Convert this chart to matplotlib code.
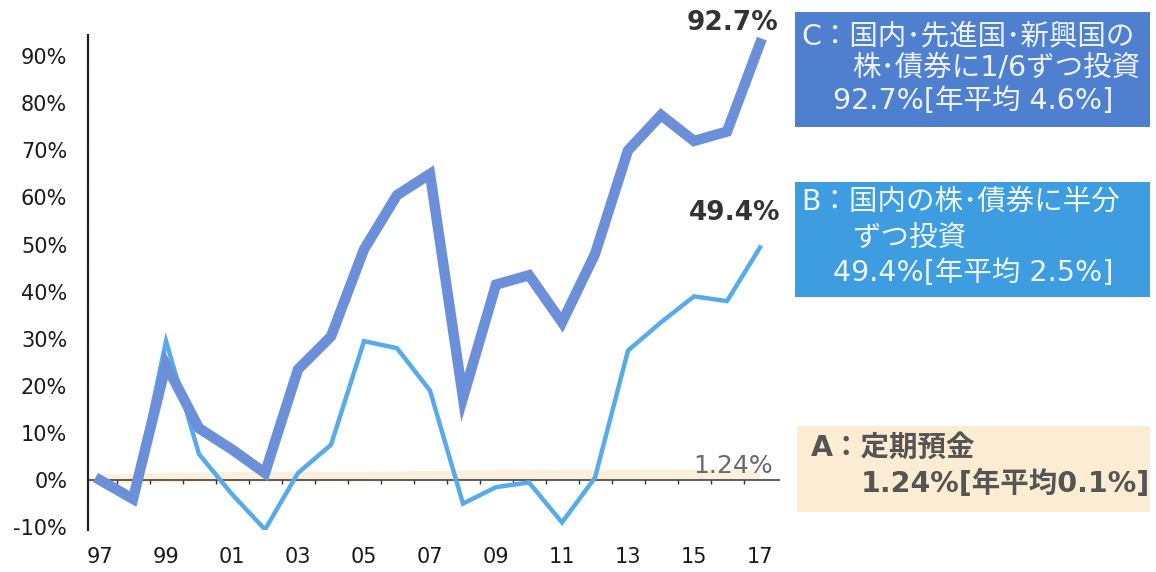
import matplotlib
matplotlib.use("Agg")
import matplotlib.pyplot as plt
from matplotlib.patches import Rectangle

plt.rcParams['font.family'] = ['DejaVu Sans', 'Noto Sans CJK JP']

# ---- data ----
years = list(range(1997, 2018))
series_c = [0, -4, 24.5, 11, 6.5, 1.5, 23.5, 30.5, 49, 60.5, 65, 17.5, 41.5, 43.5, 33.5, 48, 70, 77.5, 72, 74, 92.7]
series_b = [0, -4, 29.5, 5.5, -3, -10.5, 1.5, 7.5, 29.5, 28, 19, -5, -1.5, -0.5, -9, 0.5, 27.5, 33.5, 39, 38, 49.4]
series_a = [0, 0.3, 0.5, 0.6, 0.65, 0.7, 0.7, 0.72, 0.75, 0.8, 0.9, 1.0, 1.05, 1.1, 1.13, 1.16, 1.18, 1.2, 1.22, 1.23, 1.24]
ytick_vals = [-10, 0, 10, 20, 30, 40, 50, 60, 70, 80, 90]
xtick_years = list(range(1997, 2018, 2))
xtick_labels = ['97', '99', '01', '03', '05', '07', '09', '11', '13', '15', '17']
end_label_c = '92.7%'
end_label_b = '49.4%'
end_label_a = '1.24%'
legend_c = ['C：国内･先進国･新興国の', '株･債券に1/6ずつ投資', '92.7%[年平均 4.6%]']
legend_b = ['B：国内の株･債券に半分', 'ずつ投資', '49.4%[年平均 2.5%]']
legend_a = ['A：定期預金', '1.24%[年平均0.1%]']

W, H = 1156, 572
fig = plt.figure(figsize=(W / 100, H / 100), dpi=100)

def fx(px):
    return px / W

def fy(py):
    return 1 - py / H

ax = fig.add_axes([fx(88), fy(530), fx(780) - fx(88), fy(35) - fy(530)])
ax.set_xlim(1997 - 12 / 33, 2017 + 20 / 33)
ax.set_ylim(-10.6, 94.5)

c_line = '#6b8fd9'
b_line = '#58abea'

# A series: faint beige band along zero
ax.plot(years, series_a, color='#fdefd9', lw=7, solid_capstyle='butt', zorder=1)
# zero axis line with small ticks
ax.axhline(0, color='#333333', lw=1.1, zorder=2)
half_years = [y + 0.5 for y in years[:-1]]
ax.vlines(half_years, -0.9, 0, color='#333333', lw=1.0, zorder=2)

ax.plot(years, series_b, color=b_line, lw=3.2, solid_joinstyle='miter', zorder=3)
ax.plot(years, series_c, color=c_line, lw=7.5, solid_joinstyle='miter', zorder=4)

for s in ['top', 'right', 'bottom']:
    ax.spines[s].set_visible(False)
ax.spines['left'].set_linestyle((0, (2.2, 0.8)))
ax.spines['left'].set_linewidth(1.6)
ax.spines['left'].set_color('#222222')

ax.set_yticks(ytick_vals)
ax.set_yticklabels([f'{v}%' for v in ytick_vals])
ax.set_xticks(xtick_years)
ax.set_xticklabels(xtick_labels)
ax.tick_params(axis='y', length=0, pad=15, labelsize=15, labelcolor='#1a1a1a')
ax.tick_params(axis='x', length=0, pad=12, labelsize=15, labelcolor='#1a1a1a')

# end labels
ax.annotate(end_label_c, xy=(years[-1], series_c[-1]), xytext=(-27, 20), textcoords='offset pixels',
            ha='center', va='center', fontsize=19, fontweight='bold', color='#333333')
ax.annotate(end_label_b, xy=(years[-1], series_b[-1]), xytext=(-25, 34), textcoords='offset pixels',
            ha='center', va='center', fontsize=19, fontweight='bold', color='#333333')
ax.annotate(end_label_a, xy=(years[-1], series_a[-1]), xytext=(-27, 8), textcoords='offset pixels',
            ha='center', va='center', fontsize=18, color='#6a6a6a')

# legend boxes
fig.patches.append(Rectangle((fx(795), fy(127)), fx(1150) - fx(795), fy(12) - fy(127),
                             transform=fig.transFigure, facecolor='#4f7fcf', edgecolor='none'))
fig.patches.append(Rectangle((fx(795), fy(297)), fx(1150) - fx(795), fy(182) - fy(297),
                             transform=fig.transFigure, facecolor='#3d9de0', edgecolor='none'))
fig.patches.append(Rectangle((fx(797), fy(512)), fx(1150) - fx(797), fy(426) - fy(512),
                             transform=fig.transFigure, facecolor='#fcecd2', edgecolor='none'))

txt_kw = dict(fontsize=20.5, va='center', ha='left')
fig.text(fx(801), fy(36), legend_c[0], color='#eef2fa', **txt_kw)
fig.text(fx(852), fy(68), legend_c[1], color='#eef2fa', **txt_kw)
fig.text(fx(833), fy(101), legend_c[2], color='#eef2fa', **txt_kw)

fig.text(fx(801), fy(202), legend_b[0], color='#eef6fc', **txt_kw)
fig.text(fx(852), fy(238), legend_b[1], color='#eef6fc', **txt_kw)
fig.text(fx(833), fy(273), legend_b[2], color='#eef6fc', **txt_kw)

fig.text(fx(811), fy(448), legend_a[0], color='#555555', fontweight='bold', **txt_kw)
fig.text(fx(861), fy(484), legend_a[1], color='#555555', fontweight='bold', **txt_kw)

fig.savefig('out.png', dpi=100, facecolor='white')
